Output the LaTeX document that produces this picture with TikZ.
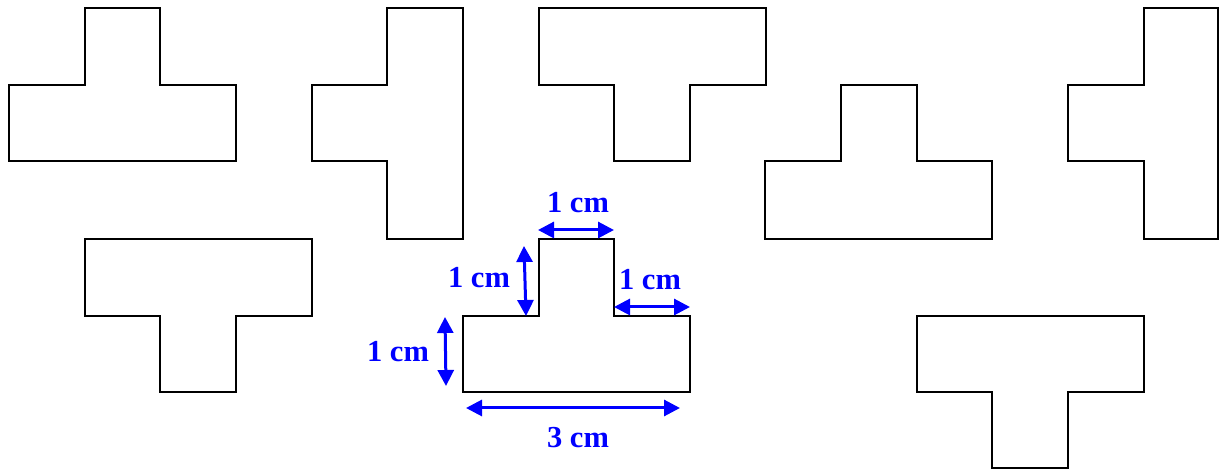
\documentclass[tikz,border=0pt]{standalone}
\usepackage{fontspec}
\setmainfont{Liberation Serif}
\usetikzlibrary{arrows.meta}
\begin{document}
\begin{tikzpicture}[x=1pt,y=-1pt,
  tshape/.style={draw=black,line width=2pt,line join=miter},
  dim/.style={draw=blue,line width=3pt,{Triangle[length=16pt,width=16pt]}-{Triangle[length=16pt,width=16pt]}},
  lab/.style={text=blue,font=\fontsize{30.5}{33}\selectfont\bfseries,inner sep=0pt,anchor=base}]
\useasboundingbox (0,0) rectangle (1219,470);
% T up
\draw[tshape] (85,8) -- (160,8) -- (160,85) -- (236,85) -- (236,161) -- (9,161) -- (9,85) -- (85,85) -- cycle;
% T left
\draw[tshape] (387,8) -- (463,8) -- (463,239) -- (387,239) -- (387,161) -- (312,161) -- (312,85) -- (387,85) -- cycle;
% T down
\draw[tshape] (539,8) -- (766,8) -- (766,85) -- (690,85) -- (690,161) -- (614,161) -- (614,85) -- (539,85) -- cycle;
% T up
\draw[tshape] (841,85) -- (917,85) -- (917,161) -- (992,161) -- (992,239) -- (765,239) -- (765,161) -- (841,161) -- cycle;
% T left
\draw[tshape] (1144,8) -- (1218,8) -- (1218,239) -- (1144,239) -- (1144,161) -- (1068,161) -- (1068,85) -- (1144,85) -- cycle;
% T down
\draw[tshape] (85,239) -- (312,239) -- (312,316) -- (236,316) -- (236,392) -- (160,392) -- (160,316) -- (85,316) -- cycle;
% main T up
\draw[tshape] (539,239) -- (614,239) -- (614,316) -- (690,316) -- (690,392) -- (463,392) -- (463,316) -- (539,316) -- cycle;
% T down
\draw[tshape] (917,316) -- (1144,316) -- (1144,392) -- (1068,392) -- (1068,468) -- (992,468) -- (992,392) -- (917,392) -- cycle;
% dimension coordinates
\coordinate (t1) at (538,230); \coordinate (t2) at (614,230);
\coordinate (l1) at (524,246); \coordinate (l2) at (526,316);
\coordinate (r1) at (614,307); \coordinate (r2) at (690,307);
\coordinate (b1) at (445,317); \coordinate (b2) at (446,386);
\coordinate (w1) at (466,408); \coordinate (w2) at (680,408);
\draw[dim] (t1) -- (t2);
\draw[dim] (l1) -- (l2);
\draw[dim] (r1) -- (r2);
\draw[dim] (b1) -- (b2);
\draw[dim] (w1) -- (w2);
\node[lab] (tl) at (578,213) {1 cm};
\node[lab] (ll) at (479,288) {1 cm};
\node[lab] (rl) at (650,290) {1 cm};
\node[lab] (bl) at (398,362) {1 cm};
\node[lab] (wl) at (578,447) {3 cm};
\end{tikzpicture}
\end{document}
